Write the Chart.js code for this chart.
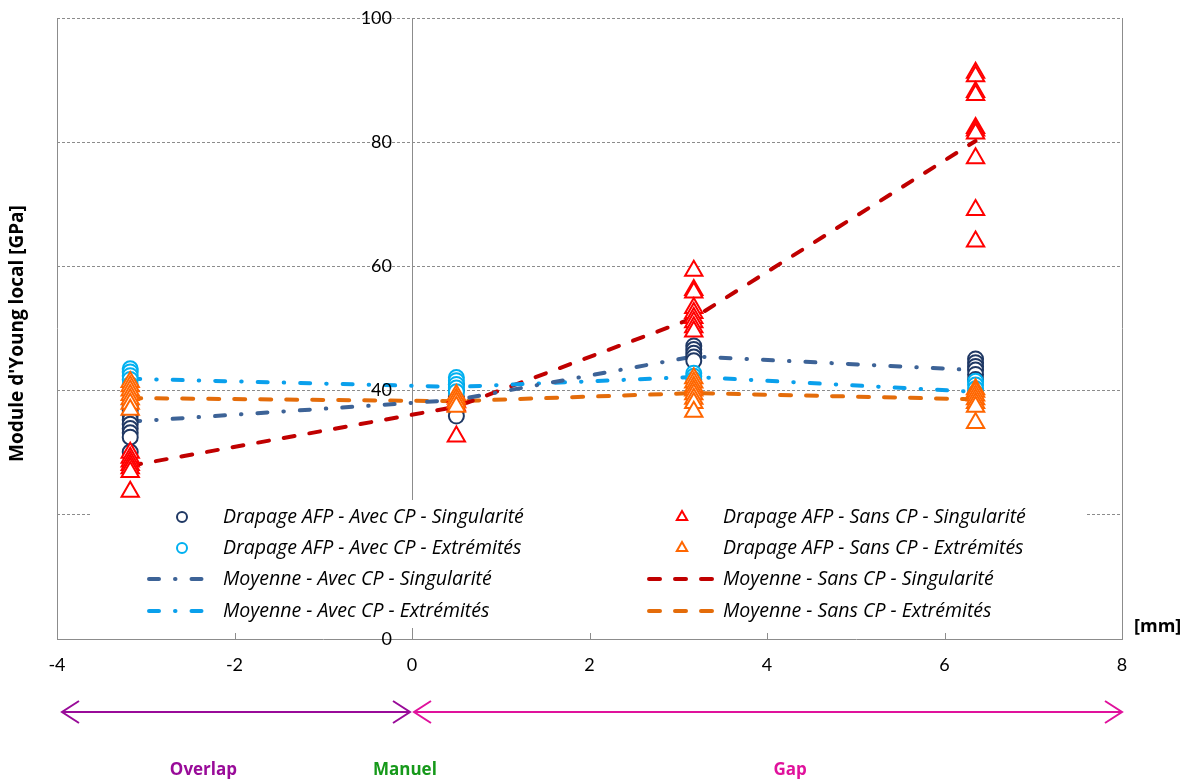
<!DOCTYPE html>
<html lang="fr">
<head>
<meta charset="UTF-8">
<title>Module d'Young local</title>
<script src="https://cdn.jsdelivr.net/npm/chart.js"></script>
<style>
    body { margin: 0; background: #fff; }
    #wrap { width: 1189px; height: 781px; }
</style>
</head>
<body>
<div id="wrap"><canvas id="youngChart" width="1189" height="781"></canvas></div>
<script>
// positions des mesures [mm]
const positions = [-3.175, 0.5, 3.175, 6.35];

// mesures (une liste par position), en GPa
const avecSing = [
    [37.5, 36.8, 36.0, 35.3, 34.6, 33.9, 33.2, 32.5, 30.1],
    [41.0, 40.0, 39.0, 38.0, 37.0, 35.9],
    [47.2, 46.6, 46.0, 45.4, 44.8],
    [45.1, 44.5, 43.9, 43.3, 42.6, 41.8]
];
const avecExtr = [
    [43.5, 43.0, 42.4, 41.8, 41.0],
    [42.1, 41.6, 41.0, 40.4, 39.8],
    [42.8, 42.3, 41.8],
    [41.5, 40.9, 40.3, 39.6]
];
const sansSing = [
    [30.0, 29.2, 28.6, 28.0, 27.5, 26.9, 23.7],
    [39.0, 38.2, 37.6, 32.6],
    [59.3, 56.2, 55.8, 53.3, 52.5, 51.7, 51.0, 50.2, 49.5],
    [91.2, 90.6, 88.1, 87.6, 82.3, 81.9, 81.4, 77.4, 69.1, 64.0]
];
const sansExtr = [
    [41.4, 40.7, 40.0, 39.3, 38.6, 37.9, 36.9],
    [39.3, 38.7, 38.1, 37.4],
    [42.0, 41.3, 40.6, 40.0, 39.4, 38.7, 38.0, 36.6],
    [40.2, 39.8, 39.2, 38.6, 38.0, 37.4, 34.8]
];

// moyennes
const moyAvecSing = [35.0, 38.5, 45.5, 43.3];
const moyAvecExtr = [41.9, 40.6, 42.2, 39.8];
const moySansSing = [27.9, 37.4, 51.7, 80.2];
const moySansExtr = [38.8, 38.3, 39.6, 38.6];

const xTicks = [-4, -2, 0, 2, 4, 6, 8];
const yTicks = [0, 20, 40, 60, 80, 100];

const FONT = 'Lato, "Open Sans", sans-serif';
const FONT_WIDE = '"Open Sans", Lato, sans-serif';

function cloud(groups) {
    return groups.flatMap((vals, i) => vals.map(v => ({ x: positions[i], y: v })));
}
function mean(vals) {
    return vals.map((v, i) => ({ x: positions[i], y: v }));
}

const dashDot = [10, 16, 0.5, 16];
const dashed = [11, 15];

const datasets = [
    { label: 'Drapage AFP - Sans CP - Extrémités', data: cloud(sansExtr), order: 0,
      pointStyle: 'triangle', pointRadius: 10, borderColor: '#ff6600', pointBackgroundColor: '#fff', pointBorderWidth: 2 },
    { label: 'Drapage AFP - Sans CP - Singularité', data: cloud(sansSing), order: 1,
      pointStyle: 'triangle', pointRadius: 10, borderColor: '#ff0000', pointBackgroundColor: '#fff', pointBorderWidth: 2 },
    { label: 'Drapage AFP - Avec CP - Extrémités', data: cloud(avecExtr), order: 2,
      pointStyle: 'circle', pointRadius: 7.5, borderColor: '#00b0f0', pointBackgroundColor: '#fff', pointBorderWidth: 2 },
    { label: 'Drapage AFP - Avec CP - Singularité', data: cloud(avecSing), order: 3,
      pointStyle: 'circle', pointRadius: 7.5, borderColor: '#1f3864', pointBackgroundColor: '#fff', pointBorderWidth: 2 },
    { label: 'Moyenne - Avec CP - Singularité', data: mean(moyAvecSing), order: 4, showLine: true,
      pointRadius: 0, borderColor: '#3d6397', borderWidth: 4, borderDash: dashDot, borderCapStyle: 'round' },
    { label: 'Moyenne - Avec CP - Extrémités', data: mean(moyAvecExtr), order: 5, showLine: true,
      pointRadius: 0, borderColor: '#0aa0ec', borderWidth: 4, borderDash: dashDot, borderCapStyle: 'round' },
    { label: 'Moyenne - Sans CP - Singularité', data: mean(moySansSing), order: 6, showLine: true,
      pointRadius: 0, borderColor: '#c00000', borderWidth: 4, borderDash: dashed, borderCapStyle: 'round' },
    { label: 'Moyenne - Sans CP - Extrémités', data: mean(moySansExtr), order: 7, showLine: true,
      pointRadius: 0, borderColor: '#e46c0a', borderWidth: 4, borderDash: dashed, borderCapStyle: 'round' }
];

// ordre de la légende : colonne gauche puis colonne droite
const legendLeft = [3, 2, 4, 5];
const legendRight = [1, 0, 6, 7];

const decor = {
    id: 'decor',
    afterDraw(chart) {
        const { ctx, chartArea: a, scales: { x, y } } = chart;
        ctx.save();

        // petites graduations vers l'intérieur
        ctx.strokeStyle = '#8c8c8c';
        ctx.lineWidth = 1;
        xTicks.slice(1, -1).forEach(v => {
            const px = Math.round(x.getPixelForValue(v)) + 0.5;
            ctx.beginPath();
            ctx.moveTo(px, a.bottom);
            ctx.lineTo(px, a.bottom - 6);
            ctx.stroke();
        });

        // étiquettes de l'axe vertical, à gauche de x = 0
        ctx.fillStyle = '#000';
        ctx.font = '18px ' + FONT;
        ctx.textAlign = 'right';
        ctx.textBaseline = 'middle';
        const axisX = x.getPixelForValue(0);
        yTicks.forEach(v => ctx.fillText(String(v), axisX - 20, y.getPixelForValue(v)));

        // légende
        ctx.fillStyle = '#fff';
        ctx.fillRect(90, 500, 995, 128);
        const rows = [517, 548, 579, 611];
        const drawEntry = (idx, row, markX, lineX0, lineX1, textX) => {
            const ds = chart.data.datasets[idx];
            const yy = rows[row];
            ctx.save();
            if (ds.showLine) {
                ctx.strokeStyle = ds.borderColor;
                ctx.lineWidth = ds.borderWidth;
                ctx.lineCap = 'round';
                ctx.setLineDash(ds.borderDash);
                ctx.beginPath();
                ctx.moveTo(lineX0 + 2, yy);
                ctx.lineTo(lineX1, yy);
                ctx.stroke();
            } else {
                ctx.strokeStyle = ds.borderColor;
                ctx.fillStyle = '#fff';
                ctx.lineWidth = 2;
                ctx.beginPath();
                if (ds.pointStyle === 'circle') {
                    ctx.arc(markX, yy, 5, 0, Math.PI * 2);
                } else {
                    const r = 6;
                    ctx.moveTo(markX, yy - r);
                    ctx.lineTo(markX + r * 0.866, yy + r / 2);
                    ctx.lineTo(markX - r * 0.866, yy + r / 2);
                    ctx.closePath();
                }
                ctx.fill();
                ctx.stroke();
            }
            ctx.restore();
            ctx.fillStyle = '#000';
            ctx.font = 'italic 19.5px ' + FONT_WIDE;
            ctx.textAlign = 'left';
            ctx.textBaseline = 'middle';
            ctx.fillText(ds.label, textX, yy);
        };
        legendLeft.forEach((idx, r) => drawEntry(idx, r, 182, 147, 203, 223));
        legendRight.forEach((idx, r) => drawEntry(idx, r, 682, 647, 715, 723));

        // titre de l'axe vertical
        ctx.fillStyle = '#000';
        ctx.font = 'bold 19px ' + FONT_WIDE;
        ctx.textAlign = 'center';
        ctx.textBaseline = 'middle';
        ctx.save();
        ctx.translate(18, (a.top + a.bottom) / 2 + 5);
        ctx.rotate(-Math.PI / 2);
        ctx.fillText("Module d'Young local [GPa]", 0, 0);
        ctx.restore();

        ctx.font = 'bold 18px ' + FONT_WIDE;
        ctx.textAlign = 'left';
        ctx.fillText('[mm]', 1134, 627);

        // flèches des zones
        const arrow = (x0, x1, yy, color) => {
            ctx.strokeStyle = color;
            ctx.lineWidth = 2;
            ctx.beginPath();
            ctx.moveTo(x0, yy); ctx.lineTo(x1, yy);
            ctx.moveTo(x0 + 17, yy - 11); ctx.lineTo(x0, yy); ctx.lineTo(x0 + 17, yy + 11);
            ctx.moveTo(x1 - 17, yy - 11); ctx.lineTo(x1, yy); ctx.lineTo(x1 - 17, yy + 11);
            ctx.stroke();
        };
        arrow(x.getPixelForValue(-4) + 5, x.getPixelForValue(0) - 2, 712, '#990b99');
        arrow(x.getPixelForValue(0) + 2, x.getPixelForValue(8), 712, '#e0129c');

        ctx.font = 'bold 17px ' + FONT_WIDE;
        ctx.textAlign = 'center';
        ctx.fillStyle = '#990b99';
        ctx.fillText('Overlap', x.getPixelForValue(-2.35), 770);
        ctx.fillStyle = '#16991a';
        ctx.fillText('Manuel', x.getPixelForValue(-0.08), 770);
        ctx.fillStyle = '#e0129c';
        ctx.fillText('Gap', x.getPixelForValue(4.26), 770);

        ctx.restore();
    }
};

new Chart(document.getElementById('youngChart'), {
    type: 'scatter',
    data: { datasets: datasets },
    options: {
        responsive: false,
        animation: false,
        layout: { padding: { left: 57, right: 67, top: 18, bottom: 102 } },
        plugins: { legend: { display: false }, tooltip: { enabled: false } },
        scales: {
            x: {
                type: 'linear',
                min: -4, max: 8,
                afterBuildTicks: s => { s.ticks = xTicks.map(v => ({ value: v })); },
                afterFit: s => { s.height = 40; },
                ticks: { color: '#000', font: { family: FONT, size: 18 }, padding: 15, maxRotation: 0 },
                grid: {
                    drawTicks: false,
                    color: c => (c.tick && (c.tick.value === -4 || c.tick.value === 8)) ? '#8c8c8c' : 'rgba(0,0,0,0)'
                },
                border: { display: true, color: '#8c8c8c', width: 1 }
            },
            y: {
                type: 'linear',
                min: 0, max: 100,
                position: { x: 0 },
                afterBuildTicks: s => { s.ticks = yTicks.map(v => ({ value: v })); },
                afterFit: s => { s.width = 0; },
                ticks: { display: false },
                grid: {
                    drawTicks: false,
                    color: c => (c.tick && c.tick.value === 0) ? 'rgba(0,0,0,0)' : '#8c8c8c'
                },
                border: { display: true, color: '#8c8c8c', width: 1, dash: [3, 2] }
            }
        }
    },
    plugins: [decor]
});
</script>
</body>
</html>
